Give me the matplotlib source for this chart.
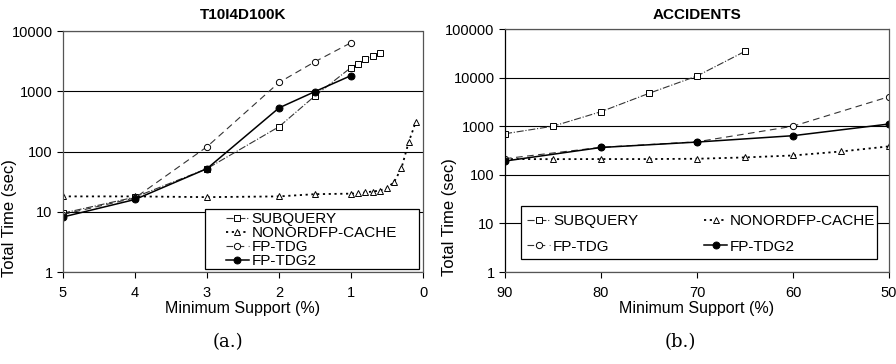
import matplotlib
matplotlib.use('Agg')
import matplotlib.pyplot as plt
from matplotlib.patches import Rectangle

plt.rcParams['font.family'] = ['Liberation Sans', 'DejaVu Sans']

# --- T10I4D100K ---
t10_sub_x = [5, 4, 3, 2, 1.5, 1, 0.9, 0.8, 0.7, 0.6]
t10_sub_y = [9.5, 17.5, 52, 258, 840, 2480, 2880, 3450, 3870, 4350]
t10_nof_x = [5, 4, 3, 2, 1.5, 1, 0.9, 0.8, 0.7, 0.6, 0.5, 0.4, 0.3, 0.2, 0.1]
t10_nof_y = [18, 18, 17.5, 18, 19.6, 20, 20.2, 21, 21.7, 22.5, 24.6, 31.5, 52.5, 142, 310]
t10_tdg_x = [5, 4, 3, 2, 1.5, 1]
t10_tdg_y = [9, 17, 120, 1400, 3100, 6400]
t10_tdg2_x = [5, 4, 3, 2, 1.5, 1]
t10_tdg2_y = [8.2, 16, 52, 530, 990, 1820]

# --- ACCIDENTS ---
acc_sub_x = [90, 85, 80, 75, 70, 65]
acc_sub_y = [700, 1000, 1990, 4750, 10800, 34700]
acc_nof_x = [90, 85, 80, 75, 70, 65, 60, 55, 50]
acc_nof_y = [211, 210, 211, 211, 214, 228, 250, 302, 385]
acc_tdg_x = [90, 80, 70, 60, 50]
acc_tdg_y = [215, 368, 478, 1000, 4050]
acc_tdg2_x = [90, 80, 70, 60, 50]
acc_tdg2_y = [192, 365, 472, 638, 1110]

labels = ['SUBQUERY', 'NONORDFP-CACHE', 'FP-TDG', 'FP-TDG2']


def draw(ax, series, title, xlim, xticks, ylim, yticks, tpad, solid_left):
  styles = [
    dict(ls='-.', marker='s', mfc='white', color='#333333', lw=0.8, ms=5),
    dict(ls=(0, (1.2, 2.0)), marker='^', mfc='white', color='black', lw=1.3, ms=4.5),
    dict(ls=(0, (6, 4)), marker='o', mfc='white', color='#333333', lw=0.8, ms=4.5),
    dict(ls='-', marker='o', mfc='black', color='black', lw=1.1, ms=5),
  ]
  for (xs, ys), lab, st in zip(series, labels, styles):
    ax.plot(xs, ys, label=lab, mec='black', mew=0.7, **st)
  ax.set_yscale('log')
  ax.set_xlim(*xlim)
  ax.set_ylim(*ylim)
  ax.set_xticks(xticks)
  ax.set_yticks(yticks)
  ax.set_yticklabels([str(v) for v in yticks])
  ax.minorticks_off()
  ax.grid(True, axis='y', color='black', lw=0.8)
  ax.set_axisbelow(True)
  for s in ['top', 'right', 'bottom', 'left']:
    ax.spines[s].set_linestyle((0, (1, 1)))
    ax.spines[s].set_color('#555555')
    ax.spines[s].set_linewidth(0.9)
  if solid_left:
    ax.spines['left'].set_linestyle('-')
    ax.spines['left'].set_color('black')
  ax.tick_params(direction='out', length=4, labelsize=10.5, width=0.8)
  ax.tick_params(axis='x', pad=6)
  ax.set_xlabel('Minimum Support (%)', fontsize=11.5, labelpad=1)
  ax.set_ylabel('Total Time (sec)', fontsize=12)
  ax.set_title(title, fontsize=11, fontweight='bold', pad=tpad)


def legend_box(ax, x0, y0, w, h):
  ax.add_patch(Rectangle((x0, y0), w, h, transform=ax.transAxes, facecolor='white',
                         edgecolor='black', lw=0.9, zorder=4.5, clip_on=False))


fig = plt.figure(figsize=(8.96, 3.64), dpi=100)
ax1 = fig.add_axes([0.0703, 0.2527, 0.4018, 0.662])
ax2 = fig.add_axes([0.5636, 0.2527, 0.4286, 0.6676])

draw(ax1, [(t10_sub_x, t10_sub_y), (t10_nof_x, t10_nof_y), (t10_tdg_x, t10_tdg_y),
           (t10_tdg2_x, t10_tdg2_y)],
     'T10I4D100K', (5, 0), [5, 4, 3, 2, 1, 0], (1, 10000), [1, 10, 100, 1000, 10000], 9,
     False)
draw(ax2, [(acc_sub_x, acc_sub_y), (acc_nof_x, acc_nof_y), (acc_tdg_x, acc_tdg_y),
           (acc_tdg2_x, acc_tdg2_y)],
     'ACCIDENTS', (90, 50), [90, 80, 70, 60, 50], (1, 100000),
     [1, 10, 100, 1000, 10000, 100000], 7, True)
ax1.yaxis.set_label_coords(-0.128, 0.224)
ax2.yaxis.set_label_coords(-0.125, 0.226)

# legend 1: single column box
legend_box(ax1, 0.394, 0.012, 0.595, 0.249)
h, l = ax1.get_legend_handles_labels()
ax1.legend(h, l, loc='center left', bbox_to_anchor=(0.452, 0.133), borderaxespad=0,
           borderpad=0, frameon=False, fontsize=11, handlelength=1.5,
           handletextpad=0.2, labelspacing=0.0)

# legend 2: two columns, row-wise order
legend_box(ax2, 0.042, 0.053, 0.927, 0.219)
h, l = ax2.get_legend_handles_labels()
order = [0, 2, 1, 3]
ax2.legend([h[i] for i in order], [l[i] for i in order], loc='center left',
           bbox_to_anchor=(0.058, 0.156), ncol=2, borderaxespad=0, borderpad=0,
           frameon=False, fontsize=11, handlelength=1.5, handletextpad=0.2,
           labelspacing=0.75, columnspacing=4.3)

fig.text(0.254, 0.06, '(a.)', fontsize=13, family=['DejaVu Serif'], ha='center', va='center')
fig.text(0.759, 0.06, '(b.)', fontsize=13, family=['DejaVu Serif'], ha='center', va='center')

fig.savefig('out.png', dpi=100)
